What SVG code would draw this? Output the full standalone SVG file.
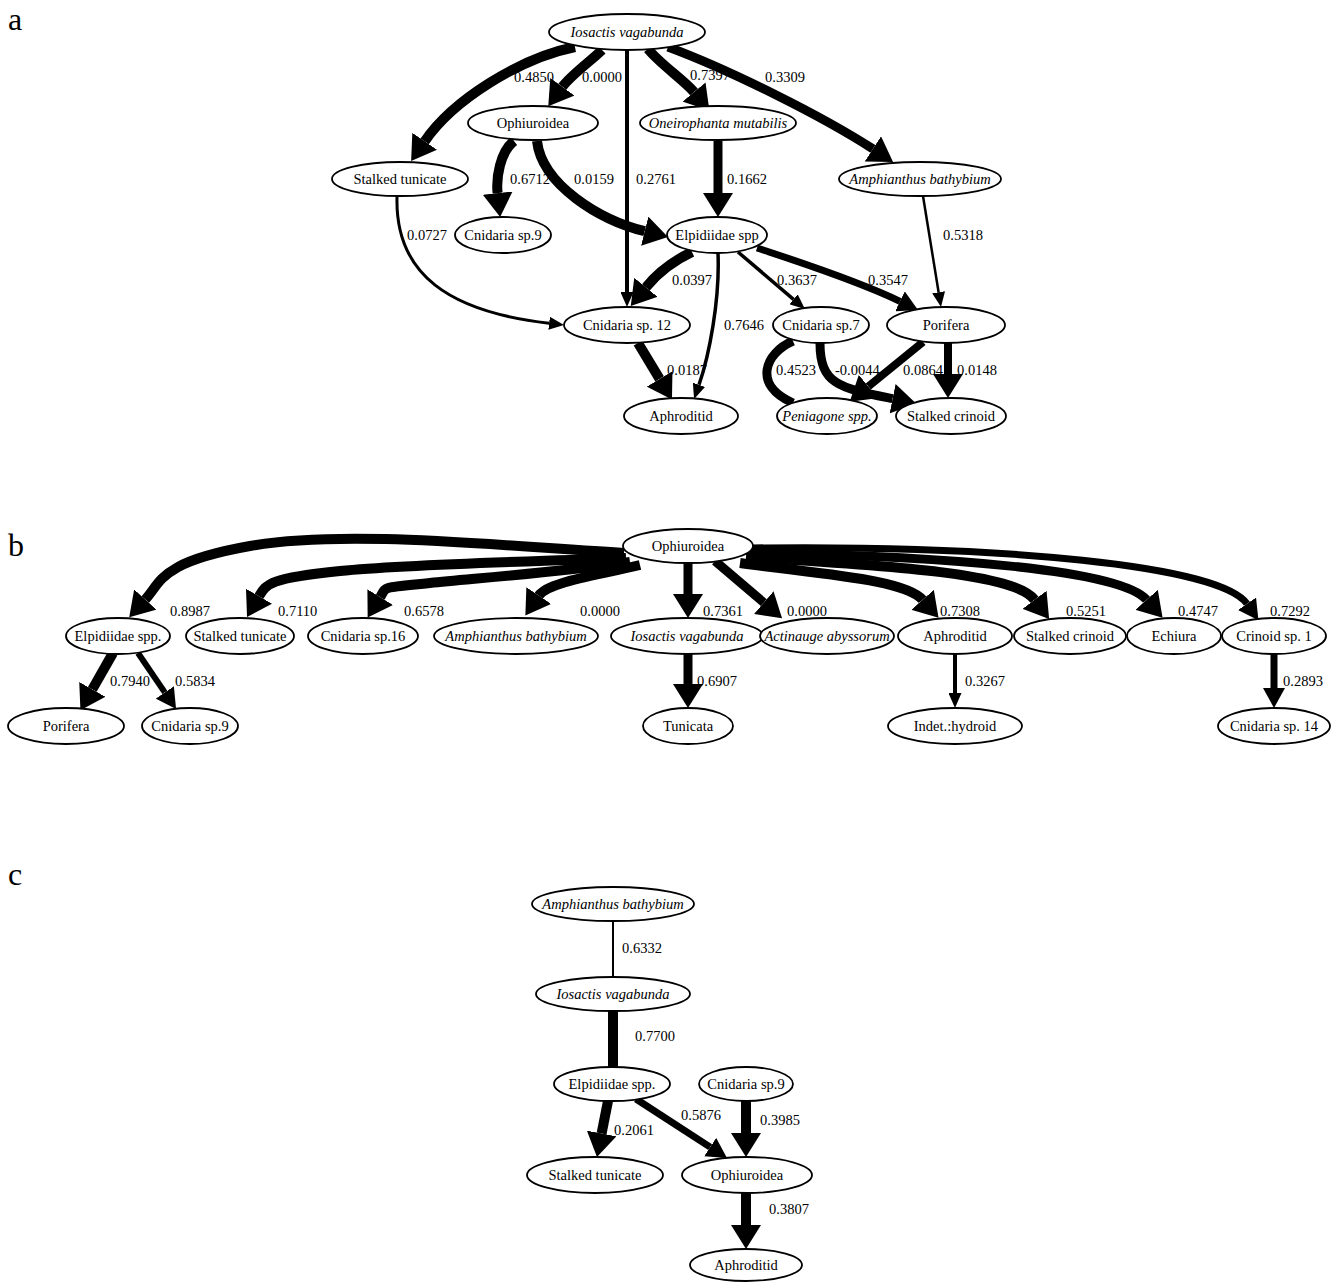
<svg xmlns="http://www.w3.org/2000/svg" width="1336" height="1282" viewBox="0 0 1336 1282">
<style>
.n ellipse{fill:#fff;stroke:#000;stroke-width:1.8}
.n text,.lbl{font-family:"Liberation Serif","Times New Roman",serif;font-size:14.5px;fill:#000}
.n text{text-anchor:middle}
.i text{font-style:italic}
.e{fill:none;stroke:#000;stroke-linecap:butt}
.panel{font-family:"Liberation Serif","Times New Roman",serif;font-size:32px;fill:#000}
</style>
<defs>
<marker id="aL" markerUnits="userSpaceOnUse" markerWidth="24" markerHeight="30" refX="0" refY="15" orient="auto" viewBox="0 0 24 30"><path d="M0,0 L24,15 L0,30 z" fill="#000"/></marker>
<marker id="aM" markerUnits="userSpaceOnUse" markerWidth="20" markerHeight="22" refX="0" refY="11" orient="auto" viewBox="0 0 20 22"><path d="M0,0 L20,11 L0,22 z" fill="#000"/></marker>
<marker id="aS" markerUnits="userSpaceOnUse" markerWidth="15" markerHeight="13" refX="0" refY="6.5" orient="auto" viewBox="0 0 15 13"><path d="M0,0 L15,6.5 L0,13 z" fill="#000"/></marker>
</defs>
<rect width="1336" height="1282" fill="#fff"/>

<g id="panel-letters">
<text class="panel" x="8" y="30">a</text>
<text class="panel" x="8" y="556">b</text>
<text class="panel" x="8" y="885">c</text>
</g>

<g id="edge-labels">
<text class="lbl" x="514" y="82">0.4850</text>
<text class="lbl" x="582" y="82">0.0000</text>
<text class="lbl" x="690" y="80">0.7397</text>
<text class="lbl" x="765" y="82">0.3309</text>
<text class="lbl" x="510" y="184">0.6712</text>
<text class="lbl" x="574" y="184">0.0159</text>
<text class="lbl" x="636" y="184">0.2761</text>
<text class="lbl" x="727" y="184">0.1662</text>
<text class="lbl" x="407" y="240">0.0727</text>
<text class="lbl" x="943" y="240">0.5318</text>
<text class="lbl" x="672" y="285">0.0397</text>
<text class="lbl" x="777" y="285">0.3637</text>
<text class="lbl" x="868" y="285">0.3547</text>
<text class="lbl" x="724" y="330">0.7646</text>
<text class="lbl" x="667" y="375">0.0187</text>
<text class="lbl" x="776" y="375">0.4523</text>
<text class="lbl" x="835" y="375">-0.0044</text>
<text class="lbl" x="903" y="375">0.0864</text>
<text class="lbl" x="957" y="375">0.0148</text>

<text class="lbl" x="170" y="616">0.8987</text>
<text class="lbl" x="278" y="616">0.7110</text>
<text class="lbl" x="404" y="616">0.6578</text>
<text class="lbl" x="580" y="616">0.0000</text>
<text class="lbl" x="703" y="616">0.7361</text>
<text class="lbl" x="787" y="616">0.0000</text>
<text class="lbl" x="940" y="616">0.7308</text>
<text class="lbl" x="1066" y="616">0.5251</text>
<text class="lbl" x="1178" y="616">0.4747</text>
<text class="lbl" x="1270" y="616">0.7292</text>
<text class="lbl" x="110" y="686">0.7940</text>
<text class="lbl" x="175" y="686">0.5834</text>
<text class="lbl" x="697" y="686">0.6907</text>
<text class="lbl" x="965" y="686">0.3267</text>
<text class="lbl" x="1283" y="686">0.2893</text>

<text class="lbl" x="622" y="953">0.6332</text>
<text class="lbl" x="635" y="1041">0.7700</text>
<text class="lbl" x="614" y="1135">0.2061</text>
<text class="lbl" x="681" y="1120">0.5876</text>
<text class="lbl" x="760" y="1125">0.3985</text>
<text class="lbl" x="769" y="1214">0.3807</text>
</g>

<g id="connectors">
<!-- panel a -->
<path class="e" style="stroke-width:10" marker-end="url(#aL)" d="M575,47 C520,58 453,100 424.7,141.3"/>
<path class="e" style="stroke-width:10" marker-end="url(#aL)" d="M602,50 C592,60 571,75 562.4,86.8"/>
<path class="e" style="stroke-width:4" marker-end="url(#aS)" d="M627,50 L627,292"/>
<path class="e" style="stroke-width:10" marker-end="url(#aL)" d="M648,49 C660,64 684,80 694,92"/>
<path class="e" style="stroke-width:9" marker-end="url(#aL)" d="M668,47 C730,70 822,116 872.9,148.9"/>
<path class="e" style="stroke-width:10" marker-end="url(#aL)" d="M514,141 C500,152 496,178 497.6,193.1"/>
<path class="e" style="stroke-width:10" marker-end="url(#aL)" d="M537,141 C542,185 600,220 644.7,231.2"/>
<path class="e" style="stroke-width:9" marker-end="url(#aL)" d="M718,141 L718,193"/>
<path class="e" style="stroke-width:3" marker-end="url(#aS)" d="M397,197 C395,275 450,312 549.1,323.2"/>
<path class="e" style="stroke-width:2.5" marker-end="url(#aS)" d="M923,196 L938.6,292.2"/>
<path class="e" style="stroke-width:10" marker-end="url(#aL)" d="M692,252 C675,260 660,270 645.9,287.3"/>
<path class="e" style="stroke-width:3.5" marker-end="url(#aS)" d="M718,253 C720,300 709,356 699,384.8"/>
<path class="e" style="stroke-width:3.5" marker-end="url(#aS)" d="M738,252 L793.5,299.3"/>
<path class="e" style="stroke-width:7" marker-end="url(#aM)" d="M757,248 C800,262 864,284 900,301.3"/>
<path class="e" style="stroke-width:10" marker-end="url(#aL)" d="M638,343 L659.6,378.9"/>
<path class="e" style="stroke-width:9" d="M793,341 C765,353 752,385 793,403"/>
<path class="e" style="stroke-width:9" marker-end="url(#aL)" d="M820,343 C820,385 840,388 892.6,398.7"/>
<path class="e" style="stroke-width:8" marker-end="url(#aL)" d="M923,342 L868.3,386.5"/>
<path class="e" style="stroke-width:8" marker-end="url(#aL)" d="M948,343 L948,374"/>
<!-- panel b -->
<path class="e" style="stroke-width:10" marker-end="url(#aL)" d="M624,553 C480,544 340,530 250,546 S162,581 145.3,599.5"/>
<path class="e" style="stroke-width:10" marker-end="url(#aL)" d="M626,558 C520,562 410,564 340,571 S266,584 259,596.2"/>
<path class="e" style="stroke-width:10" marker-end="url(#aL)" d="M630,562 C560,572 480,578 430,583 S387,586 380.2,597.1"/>
<path class="e" style="stroke-width:10" marker-end="url(#aL)" d="M640,565 C595,576 548,582 538.8,595.6"/>
<path class="e" style="stroke-width:9" marker-end="url(#aL)" d="M688,563 L688,594"/>
<path class="e" style="stroke-width:9" marker-end="url(#aL)" d="M715,561 L763.8,602.6"/>
<path class="e" style="stroke-width:10" marker-end="url(#aL)" d="M740,563 C830,575 905,580 922.6,599.8"/>
<path class="e" style="stroke-width:10" marker-end="url(#aL)" d="M746,557 C900,566 1015,574 1034.6,599.8"/>
<path class="e" style="stroke-width:9" marker-end="url(#aL)" d="M750,553 C950,556 1120,570 1146.6,599.8"/>
<path class="e" style="stroke-width:7" marker-end="url(#aM)" d="M752,548 C1000,545 1220,565 1247,603.8"/>
<path class="e" style="stroke-width:10" marker-end="url(#aL)" d="M113,653 L92.3,689.4"/>
<path class="e" style="stroke-width:6" marker-end="url(#aM)" d="M138,653 L164.8,692.4"/>
<path class="e" style="stroke-width:9" marker-end="url(#aL)" d="M688,654 L688,684"/>
<path class="e" style="stroke-width:4" marker-end="url(#aS)" d="M955,654 L955,693"/>
<path class="e" style="stroke-width:7" marker-end="url(#aM)" d="M1274,654 L1274,688"/>
<!-- panel c -->
<path class="e" style="stroke-width:2" d="M613,921 L613,977"/>
<path class="e" style="stroke-width:10" d="M613,1011 L613,1067"/>
<path class="e" style="stroke-width:10" marker-end="url(#aL)" d="M608,1101 L601.6,1133.5"/>
<path class="e" style="stroke-width:7" marker-end="url(#aM)" d="M636,1099 L710.2,1147.1"/>
<path class="e" style="stroke-width:10" marker-end="url(#aL)" d="M746,1101 L746,1133"/>
<path class="e" style="stroke-width:10" marker-end="url(#aL)" d="M746,1193 L746,1225"/>
</g>

<!-- panel a nodes -->
<g id="a-iosactis" class="n i"><ellipse cx="627" cy="32" rx="78" ry="18"/><text x="627" y="37">Iosactis vagabunda</text></g>
<g id="a-ophiuroidea" class="n"><ellipse cx="533" cy="123" rx="65" ry="17"/><text x="533" y="128">Ophiuroidea</text></g>
<g id="a-oneirophanta" class="n i"><ellipse cx="718" cy="123" rx="78" ry="17"/><text x="718" y="128">Oneirophanta mutabilis</text></g>
<g id="a-stalked-tunicate" class="n"><ellipse cx="400" cy="179" rx="68" ry="17"/><text x="400" y="184">Stalked tunicate</text></g>
<g id="a-amphianthus" class="n i"><ellipse cx="920" cy="179" rx="81" ry="17"/><text x="920" y="184">Amphianthus bathybium</text></g>
<g id="a-cnidaria9" class="n"><ellipse cx="503" cy="235" rx="48" ry="18"/><text x="503" y="240">Cnidaria sp.9</text></g>
<g id="a-elpidiidae" class="n"><ellipse cx="717" cy="235" rx="50" ry="18"/><text x="717" y="240">Elpidiidae spp</text></g>
<g id="a-cnidaria12" class="n"><ellipse cx="627" cy="325" rx="63" ry="18"/><text x="627" y="330">Cnidaria sp. 12</text></g>
<g id="a-cnidaria7" class="n"><ellipse cx="821" cy="325" rx="48" ry="18"/><text x="821" y="330">Cnidaria sp.7</text></g>
<g id="a-porifera" class="n"><ellipse cx="946" cy="325" rx="59" ry="18"/><text x="946" y="330">Porifera</text></g>
<g id="a-aphroditid" class="n"><ellipse cx="681" cy="416" rx="57" ry="18"/><text x="681" y="421">Aphroditid</text></g>
<g id="a-peniagone" class="n i"><ellipse cx="827" cy="416" rx="50" ry="18"/><text x="827" y="421">Peniagone spp.</text></g>
<g id="a-stalked-crinoid" class="n"><ellipse cx="951" cy="416" rx="55" ry="18"/><text x="951" y="421">Stalked crinoid</text></g>

<!-- panel b nodes -->
<g id="b-ophiuroidea" class="n"><ellipse cx="688" cy="546" rx="65" ry="17"/><text x="688" y="551">Ophiuroidea</text></g>
<g id="b-elpidiidae" class="n"><ellipse cx="118" cy="636" rx="52" ry="18"/><text x="118" y="641">Elpidiidae spp.</text></g>
<g id="b-stalked-tunicate" class="n"><ellipse cx="240" cy="636" rx="54" ry="18"/><text x="240" y="641">Stalked tunicate</text></g>
<g id="b-cnidaria16" class="n"><ellipse cx="363" cy="636" rx="55" ry="18"/><text x="363" y="641">Cnidaria sp.16</text></g>
<g id="b-amphianthus" class="n i"><ellipse cx="516" cy="636" rx="82" ry="18"/><text x="516" y="641">Amphianthus bathybium</text></g>
<g id="b-iosactis" class="n i"><ellipse cx="687" cy="636" rx="76" ry="18"/><text x="687" y="641">Iosactis vagabunda</text></g>
<g id="b-actinauge" class="n i"><ellipse cx="827" cy="636" rx="67" ry="18"/><text x="827" y="641">Actinauge abyssorum</text></g>
<g id="b-aphroditid" class="n"><ellipse cx="955" cy="636" rx="57" ry="18"/><text x="955" y="641">Aphroditid</text></g>
<g id="b-stalked-crinoid" class="n"><ellipse cx="1070" cy="636" rx="56" ry="18"/><text x="1070" y="641">Stalked crinoid</text></g>
<g id="b-echiura" class="n"><ellipse cx="1174" cy="636" rx="47" ry="18"/><text x="1174" y="641">Echiura</text></g>
<g id="b-crinoid1" class="n"><ellipse cx="1274" cy="636" rx="52" ry="18"/><text x="1274" y="641">Crinoid sp. 1</text></g>
<g id="b-porifera" class="n"><ellipse cx="66" cy="726" rx="58" ry="18"/><text x="66" y="731">Porifera</text></g>
<g id="b-cnidaria9" class="n"><ellipse cx="190" cy="726" rx="48" ry="18"/><text x="190" y="731">Cnidaria sp.9</text></g>
<g id="b-tunicata" class="n"><ellipse cx="688" cy="726" rx="45" ry="18"/><text x="688" y="731">Tunicata</text></g>
<g id="b-hydroid" class="n"><ellipse cx="955" cy="726" rx="67" ry="18"/><text x="955" y="731">Indet.:hydroid</text></g>
<g id="b-cnidaria14" class="n"><ellipse cx="1274" cy="726" rx="56" ry="18"/><text x="1274" y="731">Cnidaria sp. 14</text></g>

<!-- panel c nodes -->
<g id="c-amphianthus" class="n i"><ellipse cx="613" cy="904" rx="81" ry="17"/><text x="613" y="909">Amphianthus bathybium</text></g>
<g id="c-iosactis" class="n i"><ellipse cx="613" cy="994" rx="77" ry="17"/><text x="613" y="999">Iosactis vagabunda</text></g>
<g id="c-elpidiidae" class="n"><ellipse cx="612" cy="1084" rx="58" ry="17"/><text x="612" y="1089">Elpidiidae spp.</text></g>
<g id="c-cnidaria9" class="n"><ellipse cx="746" cy="1084" rx="47" ry="17"/><text x="746" y="1089">Cnidaria sp.9</text></g>
<g id="c-stalked-tunicate" class="n"><ellipse cx="595" cy="1175" rx="68" ry="18"/><text x="595" y="1180">Stalked tunicate</text></g>
<g id="c-ophiuroidea" class="n"><ellipse cx="747" cy="1175" rx="65" ry="18"/><text x="747" y="1180">Ophiuroidea</text></g>
<g id="c-aphroditid" class="n"><ellipse cx="746" cy="1265" rx="56" ry="16"/><text x="746" y="1270">Aphroditid</text></g>
</svg>
